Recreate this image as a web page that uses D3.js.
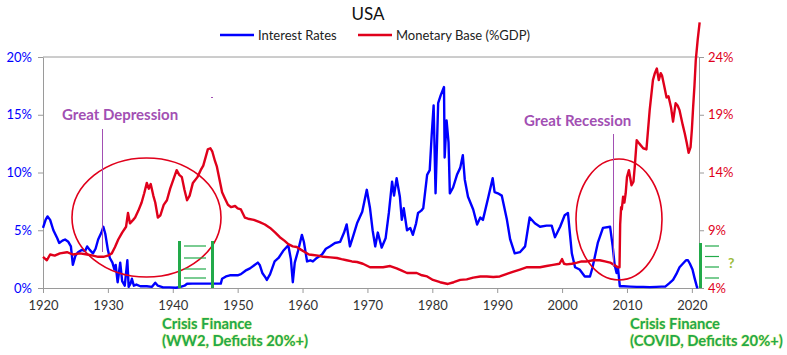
<!DOCTYPE html>
<html><head><meta charset="utf-8">
<script src="https://cdn.jsdelivr.net/npm/d3@7"></script>
<style>
html,body{margin:0;padding:0;background:#fff;}
svg{display:block;font-family:Lato,"Open Sans",sans-serif;}
</style></head>
<body><svg id="c" width="787" height="355"></svg>
<script>
// ---- data ----
const rateYears = [1920.0,1920.4,1920.7,1921.1,1921.6,1922.2,1922.5,1923.0,1923.4,1923.9,1924.3,1924.6,1925.0,1925.4,1926.0,1926.5,1926.8,1927.2,1927.7,1928.1,1928.5,1929.0,1929.3,1929.6,1930.0,1930.3,1930.7,1931.0,1931.2,1931.5,1931.7,1931.9,1932.2,1932.6,1933.0,1933.2,1933.5,1933.7,1934.0,1934.4,1935.0,1936.0,1936.8,1937.3,1937.7,1938.5,1939.5,1940.5,1941.2,1941.8,1942.2,1943.0,1944.0,1945.0,1946.0,1947.4,1947.6,1948.2,1948.8,1950.0,1950.5,1951.2,1951.9,1952.4,1953.1,1953.4,1953.8,1954.3,1954.5,1955.0,1955.7,1956.3,1957.0,1957.8,1958.2,1958.5,1958.8,1959.3,1959.9,1960.2,1960.7,1961.2,1961.6,1962.2,1963.0,1963.6,1964.2,1965.0,1965.8,1966.4,1966.8,1967.3,1967.8,1968.4,1969.2,1969.9,1970.4,1970.8,1971.2,1971.6,1972.2,1972.8,1973.3,1973.8,1974.1,1974.5,1975.0,1975.3,1975.6,1976.1,1976.6,1977.0,1977.5,1977.8,1978.3,1978.6,1979.2,1979.6,1979.9,1980.2,1980.5,1980.9,1981.3,1981.8,1981.9,1982.2,1982.5,1982.7,1983.2,1983.8,1984.3,1984.7,1985.0,1985.5,1986.3,1986.9,1987.4,1987.8,1988.6,1989.3,1989.6,1990.1,1990.7,1991.5,1992.0,1992.7,1993.5,1994.3,1995.0,1995.8,1996.6,1997.6,1998.4,1998.9,1999.7,2000.4,2000.9,2001.5,2002.0,2002.7,2003.5,2004.3,2004.7,2005.5,2006.3,2007.4,2007.8,2008.1,2008.4,2008.6,2008.9,2009.5,2010.5,2011.5,2012.5,2013.5,2014.5,2015.3,2015.9,2016.5,2017.1,2017.6,2018.1,2018.6,2019.1,2019.4,2019.7,2020.1,2020.4,2020.8,2021.0];
const rateValues = [5.2,5.9,6.2,5.9,5.0,4.3,3.9,4.1,4.2,4.0,3.6,2.0,2.8,3.1,3.3,3.2,3.6,3.3,3.0,3.4,4.2,4.8,5.3,4.7,3.3,2.6,2.2,1.6,2.0,0.5,1.3,2.2,0.6,0.2,2.4,0.1,0.4,0.8,0.2,0.3,0.15,0.15,0.1,0.45,0.2,0.05,0.05,0.02,0.1,0.2,0.37,0.38,0.38,0.38,0.38,0.38,0.8,1.0,1.1,1.1,1.2,1.5,1.7,1.9,2.2,2.0,1.3,0.9,0.7,1.2,2.3,2.6,3.2,3.7,2.5,0.5,2.2,3.2,4.6,4.0,2.3,2.4,2.3,2.6,2.9,3.4,3.6,3.9,4.0,4.8,5.5,3.6,4.5,5.6,6.6,8.5,6.9,5.0,3.6,4.8,3.5,4.3,6.5,9.2,8.0,9.5,7.9,5.9,6.9,5.0,5.2,4.6,5.6,6.5,6.7,6.9,9.8,10.2,13.2,15.8,8.2,16.0,16.7,17.4,11.3,14.5,12.6,8.2,8.7,9.8,10.4,11.5,9.4,7.9,6.8,5.5,6.1,5.9,7.8,9.5,8.3,8.2,8.0,5.9,4.2,3.0,3.1,3.6,6.1,5.6,5.3,5.4,5.4,4.4,5.3,6.3,6.5,3.0,1.8,1.6,1.0,1.0,1.8,3.9,5.2,5.3,3.6,2.0,1.3,1.8,0.15,0.15,0.12,0.1,0.1,0.08,0.1,0.12,0.12,0.4,0.7,1.2,1.8,2.1,2.4,2.4,2.1,1.6,0.9,0.05,0.05];

const baseYears = [1920.0,1920.6,1921.1,1921.8,1922.6,1923.7,1924.6,1925.7,1926.8,1927.7,1928.5,1929.3,1930.0,1930.6,1931.1,1931.6,1932.2,1932.8,1933.1,1933.4,1933.9,1934.2,1934.7,1935.2,1935.6,1936.0,1936.3,1936.6,1937.0,1937.3,1937.7,1938.1,1938.6,1939.1,1939.6,1940.1,1940.6,1941.0,1941.4,1941.8,1942.2,1942.6,1943.1,1943.8,1944.3,1944.7,1945.1,1945.4,1945.8,1946.1,1946.5,1946.8,1947.2,1947.6,1948.0,1948.5,1949.0,1949.6,1950.0,1950.5,1951.1,1951.6,1952.5,1953.4,1954.2,1955.0,1955.8,1956.5,1957.2,1957.8,1958.5,1959.1,1959.8,1960.4,1961.0,1961.6,1962.4,1963.2,1964.3,1965.3,1966.0,1966.8,1967.6,1968.4,1969.3,1970.4,1971.4,1972.4,1973.5,1974.5,1975.3,1976.1,1977.6,1978.4,1979.2,1980.1,1981.2,1982.4,1983.3,1984.3,1985.3,1986.3,1987.4,1988.4,1989.4,1990.4,1991.4,1992.4,1993.5,1994.6,1995.6,1996.6,1997.6,1998.6,1999.6,2000.0,2000.3,2000.7,2001.5,2002.3,2003.0,2003.8,2004.8,2005.8,2006.6,2007.4,2008.0,2008.6,2008.85,2008.95,2009.1,2009.2,2009.4,2009.6,2009.8,2010.0,2010.3,2010.7,2011.0,2011.2,2011.5,2011.9,2012.5,2013.0,2013.5,2014.0,2014.3,2014.6,2014.9,2015.2,2015.4,2015.7,2016.1,2016.4,2016.8,2017.1,2017.5,2017.8,2018.1,2018.6,2018.9,2019.2,2019.5,2019.8,2020.0,2020.2,2020.4,2020.6,2020.9,2021.2];
const baseValues = [6.7,6.4,6.9,6.8,7.0,7.1,6.9,7.0,6.9,6.8,6.7,6.7,6.8,7.0,7.55,8.2,8.8,9.3,10.5,9.6,9.9,10.1,10.7,11.4,12.2,13.1,12.6,13.0,12.0,11.4,10.1,10.3,11.2,11.6,12.6,13.4,14.2,13.8,13.6,12.5,11.6,12.0,13.1,13.6,14.2,14.6,15.4,16.0,16.1,15.8,15.0,14.5,13.4,12.3,11.8,11.2,11.0,11.1,10.9,10.8,10.1,10.0,9.9,9.7,9.5,9.2,8.8,8.4,8.1,7.8,7.6,7.55,7.3,7.1,6.9,6.86,6.8,6.7,6.65,6.6,6.5,6.4,6.3,6.25,6.1,5.8,5.8,5.8,5.9,5.7,5.5,5.3,5.3,5.1,5.0,4.7,4.5,4.35,4.5,4.7,4.75,4.9,5.0,5.0,4.95,5.0,5.2,5.4,5.6,5.8,5.8,5.8,5.9,6.0,6.1,6.5,6.1,6.05,6.1,6.2,6.3,6.3,6.4,6.4,6.3,6.2,6.0,5.8,5.8,9.5,11.0,10.8,11.9,11.4,12.2,13.6,14.2,12.9,13.2,14.5,16.8,16.5,16.1,16.0,19.4,22.0,22.6,23.0,22.0,22.6,22.4,21.6,20.5,20.6,19.6,18.4,20.0,19.8,19.4,18.1,17.4,16.6,15.7,16.2,17.7,19.7,21.5,23.7,25.5,27.0];

const xTicks = [1920,1930,1940,1950,1960,1970,1980,1990,2000,2010,2020];
const leftTicks = [0,5,10,15,20];
const rightTicks = [4,9,14,19,24];
const seriesNames = ["Interest Rates","Monetary Base (%GDP)"];
const title = "USA";

// ---- chart ----
const svg = d3.select("#c");
const L = 43, R = 699, T = 57, B = 288;
const BLUE = "#0000ff", RED = "#e0001b", GREEN = "#22aa4a", PURPLE = "#a24fb3", GRAY = "#9a9a9a";

const x = d3.scaleLinear().domain([1920, 2021.1]).range([L, R]);
const yL = d3.scaleLinear().domain([0, 20]).range([B, T]);
const yR = d3.scaleLinear().domain([4, 24]).range([B, T]);

// top border line
svg.append("line").attr("x1", L).attr("x2", R).attr("y1", T).attr("y2", T)
  .attr("stroke", GRAY).attr("stroke-width", 1);

// axes
const gx = svg.append("g").attr("transform", `translate(0,${B})`)
  .call(d3.axisBottom(x).tickValues(xTicks).tickFormat(d3.format("d")).tickSize(5).tickSizeOuter(0));
gx.selectAll("text").attr("fill", "#333").attr("font-size", 13).attr("dy", "1.05em");
const gl = svg.append("g").attr("transform", `translate(${L},0)`)
  .call(d3.axisLeft(yL).tickValues(leftTicks).tickFormat(d => d + "%").tickSize(5).tickSizeOuter(0));
gl.selectAll("text").attr("fill", BLUE).attr("font-size", 13).attr("x", -11);
const gr = svg.append("g").attr("transform", `translate(${R},0)`)
  .call(d3.axisRight(yR).tickValues(rightTicks).tickFormat(d => d + "%").tickSize(5).tickSizeOuter(0));
gr.selectAll("text").attr("fill", RED).attr("font-size", 13).attr("x", 9);
svg.selectAll(".domain").attr("stroke", GRAY);
svg.selectAll(".tick line").attr("stroke", GRAY);
svg.selectAll(".tick text").attr("font-family", "Lato, sans-serif");

// lines
const rateData = rateYears.map((d, i) => [d, rateValues[i]]);
const baseData = baseYears.map((d, i) => [d, baseValues[i]]);
svg.append("path").datum(rateData)
  .attr("d", d3.line().x(d => x(d[0])).y(d => yL(d[1])))
  .attr("fill", "none").attr("stroke", BLUE).attr("stroke-width", 2.4).attr("stroke-linejoin", "round");
svg.append("path").datum(baseData)
  .attr("d", d3.line().x(d => x(d[0])).y(d => yR(d[1])))
  .attr("fill", "none").attr("stroke", RED).attr("stroke-width", 2.4).attr("stroke-linejoin", "round");

// title & legend
svg.append("text").attr("x", 368).attr("y", 20).attr("text-anchor", "middle")
  .attr("font-size", 17).attr("fill", "#111").text(title);
const leg = [{n: seriesNames[0], c: BLUE, x: 220}, {n: seriesNames[1], c: RED, x: 358}];
leg.forEach(l => {
  svg.append("line").attr("x1", l.x).attr("x2", l.x + 34).attr("y1", 35).attr("y2", 35)
    .attr("stroke", l.c).attr("stroke-width", 2.4);
  svg.append("text").attr("x", l.x + 38).attr("y", 39.5).attr("font-size", 13)
    .attr("fill", "#222").text(l.n);
});

// annotations: ellipses
svg.append("ellipse").attr("cx", 146.5).attr("cy", 217.5).attr("rx", 74.5).attr("ry", 59.5)
  .attr("fill", "none").attr("stroke", RED).attr("stroke-width", 1.6);
svg.append("ellipse").attr("cx", 619).attr("cy", 219.5).attr("rx", 43).attr("ry", 60.5)
  .attr("fill", "none").attr("stroke", RED).attr("stroke-width", 1.6);

// purple markers
svg.append("line").attr("x1", 102.5).attr("x2", 102.5).attr("y1", 129).attr("y2", 252)
  .attr("stroke", PURPLE).attr("stroke-width", 1);
svg.append("line").attr("x1", 613.5).attr("x2", 613.5).attr("y1", 134).attr("y2", 267)
  .attr("stroke", PURPLE).attr("stroke-width", 1);
svg.append("line").attr("x1", 211).attr("x2", 213).attr("y1", 97.5).attr("y2", 97.5)
  .attr("stroke", PURPLE).attr("stroke-width", 1);
svg.append("text").attr("x", 62).attr("y", 119.5).attr("font-size", 15).attr("font-weight", "bold")
  .attr("fill", PURPLE).text("Great Depression");
svg.append("text").attr("x", 524).attr("y", 125.5).attr("font-size", 15).attr("font-weight", "bold")
  .attr("fill", PURPLE).text("Great Recession");

// green crisis-finance markers
function ladder(x1, x2, top, rungs, lx1, lx2) {
  if (x1 !== null) svg.append("line").attr("x1", x1).attr("x2", x1).attr("y1", top).attr("y2", B)
    .attr("stroke", GREEN).attr("stroke-width", 3);
  if (x2 !== null) svg.append("line").attr("x1", x2).attr("x2", x2).attr("y1", top).attr("y2", B)
    .attr("stroke", GREEN).attr("stroke-width", 3);
  rungs.forEach(r => svg.append("line").attr("x1", lx1).attr("x2", lx2).attr("y1", r).attr("y2", r)
    .attr("stroke", GREEN).attr("stroke-width", 1.2));
}
ladder(179.5, 212.5, 241, [246, 258, 269, 278], 184, 206);
ladder(700.5, null, 243, [246, 256.5, 267, 278], 705, 719);

function greenText(tx, ty, s) {
  svg.append("text").attr("x", tx).attr("y", ty).attr("font-size", 14.7).attr("font-weight", "bold")
    .attr("fill", GREEN).attr("stroke", "rgba(230,230,60,0.45)").attr("stroke-width", 1.2)
    .attr("paint-order", "stroke").text(s);
}
greenText(162, 329, "Crisis Finance");
greenText(162, 346, "(WW2, Deficits 20%+)");
greenText(630, 329, "Crisis Finance");
greenText(630, 346, "(COVID, Deficits 20%+)");
svg.append("text").attr("x", 728).attr("y", 268).attr("font-size", 14).attr("font-weight", "bold")
  .attr("fill", "#9cbc3a").text("?");
</script></body></html>
